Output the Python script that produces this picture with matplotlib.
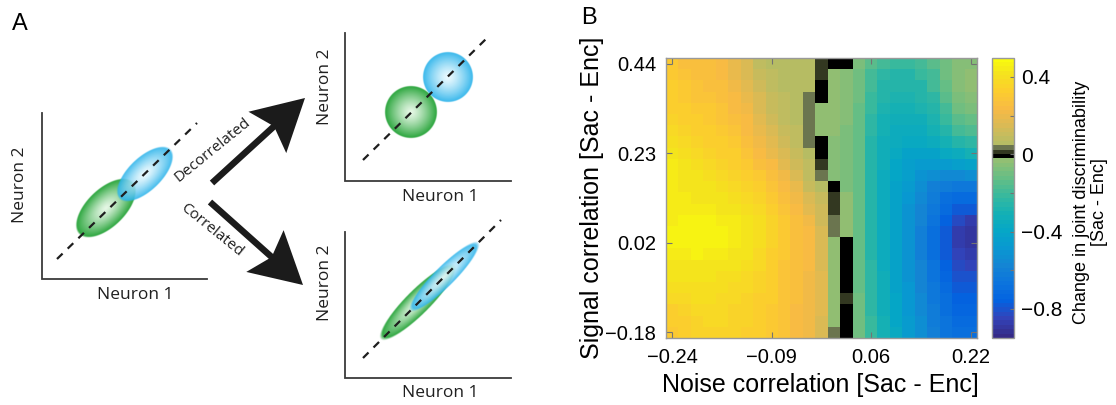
import numpy as np
import matplotlib
matplotlib.use("Agg")
import matplotlib.pyplot as plt
from matplotlib.colors import LinearSegmentedColormap, ListedColormap
from matplotlib.patches import Polygon

# ---------------- data (panel B) ----------------
# change in joint discriminability, rows = signal correlation (top -> bottom),
# columns = noise correlation (left -> right)
joint_discrim = np.array([
    [0.30, 0.27, 0.26, 0.26, 0.25, 0.19, 0.14, 0.08, 0.06, 0.06, 0.06, 0.06, 0.01, -0.01, -0.01, -0.07, -0.15, -0.20, -0.22, -0.22, -0.19, -0.15, -0.10, -0.06, -0.05],
    [0.31, 0.28, 0.27, 0.27, 0.25, 0.20, 0.15, 0.10, 0.07, 0.06, 0.06, 0.06, 0.01, -0.03, -0.05, -0.09, -0.18, -0.23, -0.25, -0.25, -0.22, -0.18, -0.11, -0.05, -0.04],
    [0.32, 0.30, 0.28, 0.27, 0.26, 0.22, 0.17, 0.12, 0.08, 0.06, 0.06, 0.06, -0.01, -0.03, -0.05, -0.10, -0.20, -0.25, -0.27, -0.27, -0.25, -0.20, -0.12, -0.05, -0.04],
    [0.33, 0.31, 0.29, 0.28, 0.27, 0.24, 0.19, 0.14, 0.10, 0.07, 0.06, 0.03, -0.01, -0.03, -0.05, -0.11, -0.21, -0.27, -0.29, -0.29, -0.27, -0.23, -0.15, -0.08, -0.06],
    [0.34, 0.32, 0.31, 0.30, 0.28, 0.25, 0.21, 0.16, 0.11, 0.08, 0.06, 0.03, -0.03, -0.04, -0.06, -0.12, -0.22, -0.28, -0.30, -0.30, -0.29, -0.25, -0.18, -0.10, -0.08],
    [0.35, 0.34, 0.32, 0.31, 0.29, 0.26, 0.23, 0.18, 0.13, 0.09, 0.06, 0.03, -0.03, -0.04, -0.06, -0.12, -0.23, -0.30, -0.32, -0.33, -0.32, -0.28, -0.22, -0.15, -0.12],
    [0.37, 0.35, 0.34, 0.32, 0.31, 0.28, 0.25, 0.20, 0.15, 0.10, 0.07, 0.03, -0.03, -0.04, -0.07, -0.13, -0.24, -0.31, -0.34, -0.35, -0.34, -0.31, -0.26, -0.20, -0.17],
    [0.39, 0.37, 0.35, 0.34, 0.32, 0.30, 0.27, 0.22, 0.17, 0.12, 0.07, 0.03, -0.01, -0.05, -0.07, -0.13, -0.25, -0.32, -0.36, -0.38, -0.38, -0.36, -0.31, -0.26, -0.23],
    [0.42, 0.40, 0.38, 0.36, 0.34, 0.32, 0.29, 0.25, 0.20, 0.15, 0.10, 0.06, -0.01, -0.05, -0.07, -0.13, -0.25, -0.33, -0.38, -0.41, -0.42, -0.41, -0.38, -0.34, -0.31],
    [0.45, 0.42, 0.40, 0.38, 0.36, 0.34, 0.31, 0.27, 0.23, 0.18, 0.12, 0.07, 0.01, -0.05, -0.07, -0.13, -0.25, -0.33, -0.39, -0.43, -0.46, -0.47, -0.46, -0.44, -0.42],
    [0.45, 0.43, 0.41, 0.40, 0.38, 0.36, 0.33, 0.30, 0.26, 0.21, 0.15, 0.08, 0.03, -0.05, -0.07, -0.13, -0.25, -0.34, -0.40, -0.45, -0.50, -0.53, -0.55, -0.55, -0.53],
    [0.44, 0.43, 0.42, 0.41, 0.40, 0.38, 0.36, 0.32, 0.28, 0.24, 0.19, 0.11, 0.06, -0.01, -0.07, -0.13, -0.25, -0.34, -0.41, -0.47, -0.53, -0.59, -0.63, -0.65, -0.64],
    [0.44, 0.44, 0.43, 0.43, 0.42, 0.40, 0.38, 0.35, 0.31, 0.27, 0.22, 0.14, 0.10, 0.01, -0.04, -0.12, -0.25, -0.34, -0.41, -0.49, -0.56, -0.63, -0.68, -0.72, -0.71],
    [0.44, 0.45, 0.45, 0.44, 0.43, 0.42, 0.40, 0.37, 0.33, 0.29, 0.25, 0.18, 0.12, 0.01, -0.04, -0.12, -0.25, -0.34, -0.42, -0.50, -0.57, -0.65, -0.72, -0.78, -0.79],
    [0.45, 0.46, 0.46, 0.46, 0.45, 0.44, 0.42, 0.39, 0.35, 0.30, 0.26, 0.21, 0.13, 0.03, -0.04, -0.12, -0.25, -0.34, -0.42, -0.50, -0.58, -0.67, -0.76, -0.83, -0.86],
    [0.46, 0.46, 0.47, 0.47, 0.46, 0.45, 0.42, 0.40, 0.35, 0.30, 0.27, 0.23, 0.14, 0.03, -0.04, -0.12, -0.25, -0.34, -0.42, -0.50, -0.59, -0.68, -0.77, -0.86, -0.89],
    [0.46, 0.46, 0.47, 0.46, 0.46, 0.44, 0.42, 0.39, 0.35, 0.30, 0.27, 0.23, 0.15, -0.03, -0.01, -0.12, -0.25, -0.34, -0.42, -0.51, -0.59, -0.68, -0.78, -0.87, -0.90],
    [0.45, 0.45, 0.46, 0.45, 0.45, 0.43, 0.41, 0.38, 0.34, 0.30, 0.27, 0.23, 0.16, -0.03, -0.01, -0.12, -0.25, -0.34, -0.42, -0.51, -0.59, -0.68, -0.77, -0.85, -0.87],
    [0.43, 0.43, 0.43, 0.43, 0.42, 0.41, 0.39, 0.37, 0.33, 0.29, 0.26, 0.23, 0.16, -0.03, -0.01, -0.12, -0.24, -0.34, -0.42, -0.50, -0.58, -0.67, -0.76, -0.83, -0.84],
    [0.41, 0.41, 0.41, 0.41, 0.40, 0.39, 0.38, 0.36, 0.33, 0.29, 0.26, 0.22, 0.17, -0.03, -0.01, -0.12, -0.24, -0.33, -0.41, -0.50, -0.58, -0.66, -0.74, -0.80, -0.81],
    [0.39, 0.40, 0.40, 0.40, 0.39, 0.38, 0.37, 0.35, 0.32, 0.29, 0.26, 0.22, 0.17, -0.03, -0.01, -0.12, -0.24, -0.33, -0.41, -0.49, -0.57, -0.65, -0.72, -0.77, -0.78],
    [0.37, 0.38, 0.39, 0.39, 0.38, 0.37, 0.36, 0.34, 0.32, 0.29, 0.26, 0.22, 0.17, -0.03, 0.01, -0.11, -0.23, -0.32, -0.40, -0.48, -0.56, -0.64, -0.70, -0.75, -0.75],
    [0.34, 0.36, 0.37, 0.38, 0.37, 0.36, 0.35, 0.34, 0.31, 0.28, 0.25, 0.22, 0.17, -0.03, -0.01, -0.11, -0.23, -0.32, -0.40, -0.48, -0.55, -0.63, -0.69, -0.73, -0.73],
    [0.32, 0.34, 0.36, 0.37, 0.37, 0.36, 0.35, 0.33, 0.31, 0.28, 0.25, 0.21, 0.16, -0.03, -0.01, -0.10, -0.22, -0.31, -0.39, -0.47, -0.54, -0.62, -0.67, -0.71, -0.71],
    [0.30, 0.32, 0.35, 0.36, 0.36, 0.35, 0.34, 0.33, 0.31, 0.28, 0.25, 0.21, 0.16, 0.03, -0.01, -0.10, -0.22, -0.31, -0.38, -0.46, -0.53, -0.61, -0.66, -0.70, -0.70],
])
noise_ticklabels = ["\u22120.24", "\u22120.09", "0.06", "0.22"]
signal_ticklabels = ["0.44", "0.23", "0.02", "\u22120.18"]
tick_cells = [0, 8, 16, 24]
cbar_ticks = [-0.8, -0.6, -0.4, -0.2, 0.0, 0.2, 0.4]
cbar_ticklabels = ["\u22120.8", "", "\u22120.4", "", "0", "", "0.4"]
vmin, vmax = -0.95, 0.5

# parula-like colormap, 64 levels, with the levels around zero darkened
parula_anchors = [
    (0.2081, 0.1663, 0.5292), (0.1959, 0.2645, 0.7279), (0.0117, 0.3875, 0.8820),
    (0.0498, 0.4586, 0.8641), (0.0793, 0.5200, 0.8312), (0.0343, 0.5966, 0.8199),
    (0.0228, 0.6535, 0.7768), (0.0843, 0.6928, 0.7062), (0.2178, 0.7250, 0.6193),
    (0.3953, 0.7459, 0.5244), (0.5709, 0.7485, 0.4494), (0.7184, 0.7411, 0.3905),
    (0.8507, 0.7299, 0.3360), (0.9739, 0.7314, 0.2666), (0.9880, 0.8066, 0.1794),
    (0.9589, 0.8949, 0.1132), (0.9763, 0.9831, 0.0538),
]
anchor_pos = [0, 4, 8, 12, 16, 20, 24, 28, 32, 36, 40, 44, 48, 52, 56, 60, 63]
base = LinearSegmentedColormap.from_list(
    "parula", [(p / 63, c) for p, c in zip(anchor_pos, parula_anchors)])
levels = base(np.linspace(0, 1, 64))
levels[41, :3] = (0.0, 0.0, 0.0)
levels[42, :3] = (0.20, 0.22, 0.13)
levels[43, :3] = (0.42, 0.46, 0.31)
cmap = ListedColormap(levels)

W, H = 1116, 405
fig = plt.figure(figsize=(W / 100, H / 100), dpi=100)


def fx(px):
    return px / W


def fy(py):
    return 1 - py / H


# ---------------- panel A (schematic) ----------------
axA = fig.add_axes([0, 0, 560 / W, 1])
axA.set_xlim(0, 560)
axA.set_ylim(405, 0)
axA.axis("off")

ink = "#1f1f1f"
green_edge, green_mid = np.array([0.17, 0.65, 0.24]), np.array([0.90, 0.97, 0.90])
blue_edge, blue_mid = np.array([0.16, 0.70, 0.92]), np.array([0.92, 0.98, 1.00])


def shaded_ellipse(ax, cx, cy, a, b, angle, edge, mid, alpha, z):
    R = max(a, b) + 2
    xs = np.linspace(cx - R, cx + R, 240)
    ys = np.linspace(cy - R, cy + R, 240)
    X, Y = np.meshgrid(xs, ys)
    th = np.deg2rad(angle)
    u = (X - cx) * np.cos(th) - (Y - cy) * np.sin(th)
    v = (X - cx) * np.sin(th) + (Y - cy) * np.cos(th)
    r = np.sqrt((u / a) ** 2 + (v / b) ** 2)
    t = np.clip(r, 0, 1) ** 1.3
    rgba = np.zeros(X.shape + (4,))
    rgba[..., :3] = mid * (1 - t[..., None]) + edge * t[..., None]
    rgba[..., 3] = alpha * np.clip((1 - r) * b + 0.5, 0, 1)
    ax.imshow(rgba, extent=(cx - R, cx + R, cy - R, cy + R), origin="lower",
              interpolation="bilinear", zorder=z)


def big_arrow(ax, start, tip, head_len=51, head_half=28, notch=9, shaft_w=6.5):
    s, t = np.array(start, float), np.array(tip, float)
    d = (t - s) / np.hypot(*(t - s))
    n = np.array([-d[1], d[0]])
    back = t - d * head_len
    neck = back + d * notch
    shaft = [s + n * shaft_w / 2, neck + d * 3 + n * shaft_w / 2,
             neck + d * 3 - n * shaft_w / 2, s - n * shaft_w / 2]
    head = [t, back + n * head_half, neck, back - n * head_half]
    ax.add_patch(Polygon(shaft, closed=True, fc="#1b1b1b", ec="none", zorder=4))
    ax.add_patch(Polygon(head, closed=True, fc="#1b1b1b", ec="none", zorder=4))


# small scatter plots: (axis corner x, top y, bottom y, right x)
frames = [(42, 113, 279, 207), (345, 33, 181, 511), (345, 232, 378, 511)]
diagonals = [((57, 259), (197, 123)), ((363, 160), (488, 37)), ((363, 358), (501, 220))]
for (x0, ytop, ybot, x1), (p, q) in zip(frames, diagonals):
    axA.plot([x0, x0, x1], [ytop, ybot, ybot], color="#3a3a3a", lw=1.3,
             solid_joinstyle="miter", zorder=2)
    axA.plot([p[0], q[0]], [p[1], q[1]], color="#1e1e1e", lw=1.6,
             dashes=(3.5, 3.2), zorder=6)

# original distributions
shaded_ellipse(axA, 106, 208, 37, 19, 44, green_edge, green_mid, 1.0, 3)
shaded_ellipse(axA, 145, 174, 35, 16.5, 44, blue_edge, blue_mid, 0.88, 3.1)
# decorrelated
shaded_ellipse(axA, 411, 112, 26, 26, 0, green_edge, green_mid, 1.0, 3)
shaded_ellipse(axA, 448, 77, 25, 25, 0, blue_edge, blue_mid, 0.92, 3.1)
# correlated
shaded_ellipse(axA, 418, 302, 51, 12, 45, green_edge, green_mid, 1.0, 3)
shaded_ellipse(axA, 444, 277, 46.5, 10, 45, blue_edge, blue_mid, 0.88, 3.1)

big_arrow(axA, (212, 183), (305, 98))
big_arrow(axA, (210, 202), (303, 285))

fontA = "Open Sans"
axA.text(213, 150, "Decorrelated", rotation=39, ha="center", va="center",
         rotation_mode="anchor", fontsize=11, color=ink, family=fontA)
axA.text(212, 230, "Correlated", rotation=-39, ha="center", va="center",
         rotation_mode="anchor", fontsize=11, color=ink, family=fontA)
for x, y in [(20, 185), (325, 87), (325, 283)]:
    axA.text(x, y, "Neuron 2", rotation=90, ha="center", va="center",
             fontsize=12.5, color=ink, family=fontA, weight="medium")
for x, y in [(135, 295), (440, 197), (440, 393)]:
    axA.text(x, y, "Neuron 1", ha="center", va="center",
             fontsize=12.5, color=ink, family=fontA, weight="medium")

fig.text(fx(12), fy(24), "A", fontsize=17, family="Liberation Sans", va="center")
fig.text(fx(581), fy(18), "B", fontsize=17, family="Liberation Sans", va="center")

# ---------------- panel B (heatmap) ----------------
plt.rcParams["font.family"] = ["Liberation Sans", "DejaVu Sans"]
axB = fig.add_axes([fx(666), fy(338), 311 / W, 280 / H])
im = axB.imshow(joint_discrim, cmap=cmap, vmin=vmin, vmax=vmax,
                aspect="auto", interpolation="nearest")
axB.set_xticks(tick_cells)
axB.set_xticklabels(noise_ticklabels)
axB.set_yticks(tick_cells)
axB.set_yticklabels(signal_ticklabels)
axB.tick_params(direction="in", length=4, width=0.8, color="0.45",
                top=True, right=True, labelsize=14.5, pad=7)
for sp in axB.spines.values():
    sp.set_edgecolor("0.6")
    sp.set_linewidth(1.0)

fig.text(fx(820), fy(385), "Noise correlation [Sac - Enc]", ha="center",
         va="center", fontsize=18)
fig.text(fx(592), fy(198), "Signal correlation [Sac - Enc]", ha="center",
         va="center", rotation=90, fontsize=18)

cax = fig.add_axes([fx(992), fy(338), 22 / W, 280.5 / H])
cb = fig.colorbar(im, cax=cax, ticks=cbar_ticks)
cb.ax.set_yticklabels(cbar_ticklabels)
cb.ax.tick_params(direction="in", length=3, width=0.8, color="0.45",
                  labelsize=15, pad=5)
cb.outline.set_edgecolor("0.6")
cb.outline.set_linewidth(1.0)
fig.text(fx(1081), fy(202), "Change in joint discriminability",
         rotation=90, ha="center", va="center", fontsize=13)
fig.text(fx(1099), fy(202), "[Sac - Enc]",
         rotation=90, ha="center", va="center", fontsize=13)

fig.savefig("out.png", dpi=100)
